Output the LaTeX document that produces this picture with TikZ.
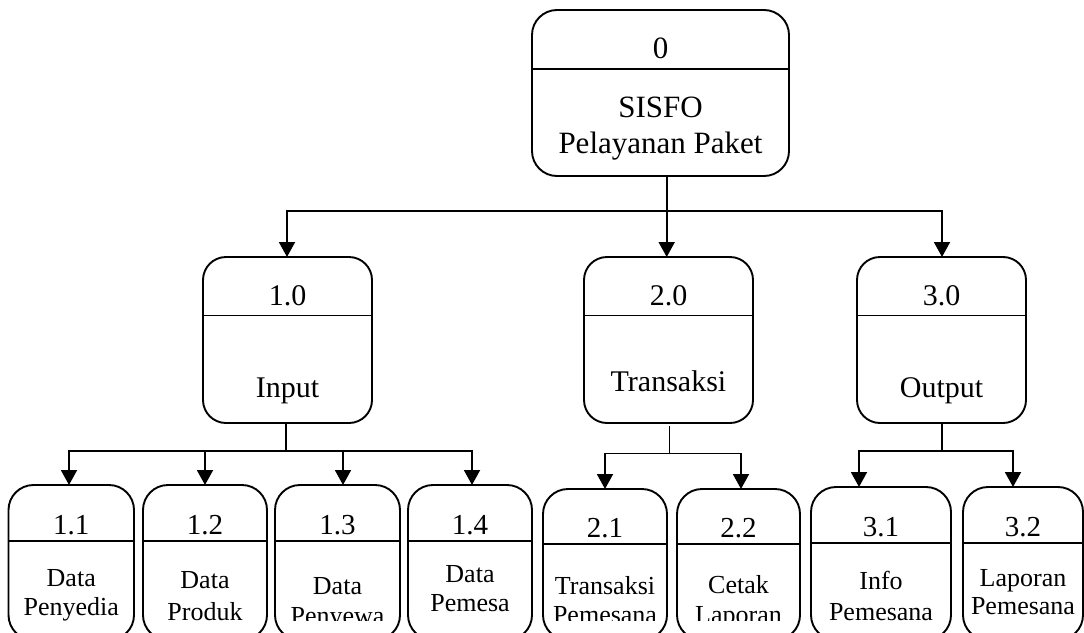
\documentclass[tikz,border=0pt]{standalone}
\usepackage{fontspec}
\setmainfont{Liberation Serif}
\usetikzlibrary{arrows.meta,calc}
\newcommand\fTop{\fontsize{31}{36}\selectfont}
\newcommand\fMid{\fontsize{30}{34}\selectfont}
\newcommand\fNum{\fontsize{29}{33}\selectfont}
\newcommand\fLab{\fontsize{26}{29}\selectfont}
\tikzset{
  pbox/.style={draw, line width=1.9pt, rounded corners=#1, inner sep=0pt, outer sep=0pt},
  divline/.style={line width=1.9pt},
  conn/.style={line width=1.9pt},
  arr/.style={line width=1.9pt, -{Triangle[width=16pt,length=15pt]}},
  txt/.style={inner sep=0pt, outer sep=0pt, anchor=base}
}
\newcommand\procbox[7]{%
  \node[pbox=#7, minimum width={#4-#2}, minimum height={#5-#3}] (#1) at ({(#2+#4)/2},{(#3+#5)/2}) {};
  \draw[divline] (#1.west |- 0,#6) -- (#1.east |- 0,#6);
}
\begin{document}
\begin{tikzpicture}[x=1pt,y=-1pt]
\useasboundingbox (0,0) rectangle (1084,632);
\fill[white] (0,0) rectangle (1084,632);
\clip (0,0) rectangle (1084,632);

% level 0
\procbox{p0}{532}{10}{789}{176}{69}{25}
\node[txt, font=\fTop] (t0n) at (p0 |- 0,58) {0};
\node[txt, font=\fTop] (t0a) at (p0 |- 0,117) {SISFO};
\node[txt, font=\fTop] (t0b) at (p0 |- 0,153.5) {Pelayanan Paket};

% level 1
\procbox{p1}{203}{257}{372}{423}{315.5}{23}
\procbox{p2}{584}{257}{753}{423}{315.5}{23}
\procbox{p3}{857}{257}{1026}{423}{315.5}{23}
\node[txt, font=\fMid] (t1n) at (p1 |- 0,305) {1.0};
\node[txt, font=\fMid] (t2n) at (p2 |- 0,305) {2.0};
\node[txt, font=\fMid] (t3n) at (p3 |- 0,305) {3.0};
\node[txt, font=\fMid] (t1l) at (p1 |- 0,397) {Input};
\node[txt, font=\fMid] (t2l) at (p2 |- 0,391) {Transaksi};
\node[txt, font=\fMid] (t3l) at (p3 |- 0,397) {Output};

% connectors level 0 -> 1
\coordinate (j0) at (666.7,211);
\coordinate (h1) at (287,211);
\coordinate (h3) at (942,211);
\draw[arr] (p0.south -| j0) -- (p2.north -| j0);
\draw[arr] (j0) -- (h1) -- (p1.north -| h1);
\draw[arr] (j0) -- (h3) -- (p3.north -| h3);

% level 2 boxes
\procbox{p11}{8.5}{485}{134}{640}{541}{25}
\procbox{p12}{143}{485}{267}{640}{541}{25}
\procbox{p13}{275}{485}{400}{640}{541}{25}
\procbox{p14}{408}{485}{532}{640}{541}{25}
\procbox{p21}{543}{489}{667}{640}{544}{25}
\procbox{p22}{677}{489}{800}{640}{544}{25}
\procbox{p31}{811}{487}{951}{640}{543}{25}
\procbox{p32}{963}{487}{1083}{640}{543}{25}

\node[txt, font=\fNum] (n11) at (p11 |- 0,534) {1.1};
\node[txt, font=\fNum] (n12) at (p12 |- 0,534) {1.2};
\node[txt, font=\fNum] (n13) at (p13 |- 0,534) {1.3};
\node[txt, font=\fNum] (n14) at (p14 |- 0,534) {1.4};
\node[txt, font=\fNum] (n21) at (p21 |- 0,537) {2.1};
\node[txt, font=\fNum] (n22) at (p22 |- 0,537) {2.2};
\node[txt, font=\fNum] (n31) at (p31 |- 0,536) {3.1};
\node[txt, font=\fNum] (n32) at (p32 |- 0,536) {3.2};

\begin{scope}
\clip (0,0) rectangle (1084,620);
\node[txt, font=\fLab] (l11a) at (p11 |- 0,586) {Data};
\node[txt, font=\fLab] (l11b) at (p11 |- 0,615) {Penyedia};
\node[txt, font=\fLab] (l12a) at (p12 |- 0,588) {Data};
\node[txt, font=\fLab] (l12b) at (p12 |- 0,620) {Produk};
\node[txt, font=\fLab] (l13a) at (p13 |- 0,594) {Data};
\node[txt, font=\fLab] (l13b) at (p13 |- 0,624) {Penyewa};
\node[txt, font=\fLab] (l14a) at (p14 |- 0,582) {Data};
\node[txt, font=\fLab] (l14b) at (p14 |- 0,611) {Pemesa};
\node[txt, font=\fLab] (l21a) at (p21 |- 0,594) {Transaksi};
\node[txt, font=\fLab] (l21b) at (p21 |- 0,623) {Pemesana};
\node[txt, font=\fLab] (l22a) at (p22 |- 0,593) {Cetak};
\node[txt, font=\fLab] (l22b) at (p22 |- 0,623) {Laporan};
\node[txt, font=\fLab] (l31a) at (p31 |- 0,589) {Info};
\node[txt, font=\fLab] (l31b) at (p31 |- 0,620) {Pemesana};
\node[txt, font=\fLab] (l32a) at (p32 |- 0,586) {Laporan};
\node[txt, font=\fLab] (l32b) at (p32 |- 0,614) {Pemesana};
\end{scope}

% connectors level 1 -> 2
\coordinate (g1) at (286,451);
\coordinate (a11) at (69,451);
\coordinate (a12) at (205,451);
\coordinate (a13) at (343,451);
\coordinate (a14) at (472,451);
\draw[conn] (p1.south -| g1) -- (g1);
\draw[arr] (g1) -- (a11) -- (p11.north -| a11);
\draw[arr] (g1) -- (a14) -- (p14.north -| a14);
\draw[arr] (a12) -- (p12.north -| a12);
\draw[arr] (a13) -- (p13.north -| a13);

\coordinate (s2) at (669.5,426);
\coordinate (g2) at (669.5,453.5);
\coordinate (a21) at (605,453.5);
\coordinate (a22) at (741,453.5);
\draw[conn] (s2) -- (g2);
\draw[arr] (g2) -- (a21) -- (p21.north -| a21);
\draw[arr] (g2) -- (a22) -- (p22.north -| a22);

\coordinate (g3) at (941.7,451);
\coordinate (a31) at (859,451);
\coordinate (a32) at (1013,451);
\draw[conn] (p3.south -| g3) -- (g3);
\draw[arr] (g3) -- (a31) -- (p31.north -| a31);
\draw[arr] (g3) -- (a32) -- (p32.north -| a32);
\end{tikzpicture}
\end{document}
